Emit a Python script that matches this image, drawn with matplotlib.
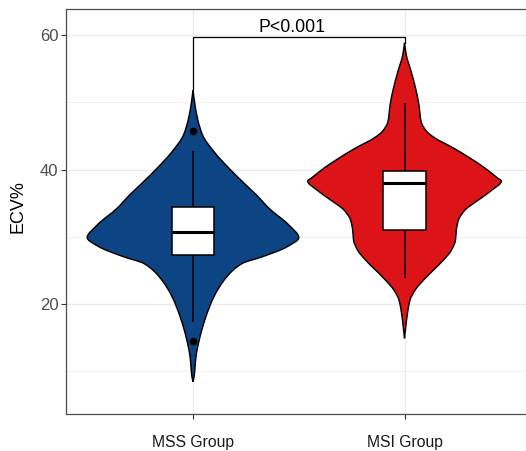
import numpy as np
import matplotlib
matplotlib.use("Agg")
import matplotlib.pyplot as plt
from matplotlib.path import Path
from matplotlib.patches import PathPatch

plt.rcParams['font.family'] = ['Liberation Sans', 'DejaVu Sans']

# Groups and their positions on the discrete axis
groups = ["MSS Group", "MSI Group"]
fills = ["#0D4483", "#DC1418"]

# Violin outlines: ECV% levels and density half-widths (in group-axis units)
mss_levels = [51.85, 50.11, 47.64, 45.16, 42.68, 40.21, 37.73, 36.24, 34.26, 31.78,
              29.90, 28.55, 27.06, 26.08, 24.09, 21.12, 18.14, 15.17, 12.19, 9.22, 8.48]
mss_halfwidth = [0.000, 0.007, 0.021, 0.045, 0.099, 0.170, 0.250, 0.300, 0.359, 0.453,
                 0.500, 0.445, 0.328, 0.234, 0.160, 0.099, 0.061, 0.033, 0.014, 0.005, 0.000]

msi_levels = [58.88, 57.10, 54.63, 52.15, 49.67, 47.20, 45.71, 44.71, 43.23, 41.74,
              40.25, 38.76, 38.32, 36.98, 35.49, 34.00, 32.51, 31.03, 29.54, 28.05,
              26.56, 25.08, 23.59, 22.10, 20.61, 18.65, 16.65, 14.93]
msi_halfwidth = [0.000, 0.008, 0.031, 0.052, 0.068, 0.078, 0.104, 0.144, 0.231, 0.309,
                 0.380, 0.440, 0.458, 0.414, 0.349, 0.286, 0.255, 0.245, 0.241, 0.222,
                 0.184, 0.137, 0.090, 0.050, 0.026, 0.014, 0.006, 0.000]

# Box plot statistics: lower whisker, Q1, median, Q3, upper whisker
mss_box = [17.3, 27.27, 30.69, 34.5, 42.8]
msi_box = [23.94, 31.03, 37.98, 39.8, 49.87]
mss_outliers = [45.7, 14.6]
msi_outliers = []

# Significance bracket
bracket_y = 59.75
bracket_tips = [52.0, 58.9]
p_label = "P<0.001"

y_ticks = [20, 40, 60]
y_minor = [10, 30, 50]


def hermite_slopes(x, y):
    """Monotone (Fritsch-Carlson) slopes so the outline never overshoots."""
    h = np.diff(x)
    delta = np.diff(y) / h
    m = np.zeros_like(y)
    m[0], m[-1] = delta[0], delta[-1]
    for k in range(1, len(y) - 1):
        if delta[k - 1] * delta[k] <= 0:
            m[k] = 0.0
        else:
            w1 = 2 * h[k] + h[k - 1]
            w2 = h[k] + 2 * h[k - 1]
            m[k] = (w1 + w2) / (w1 / delta[k - 1] + w2 / delta[k])
    return m


def violin_path(pos, levels, halfwidth):
    lv = np.asarray(levels, float)[::-1]       # ascending
    hw = np.asarray(halfwidth, float)[::-1]
    m = hermite_slopes(lv, hw)
    # right side, bottom to top, as cubic Bezier segments
    verts = [(pos + hw[0], lv[0])]
    codes = [Path.MOVETO]
    for k in range(len(lv) - 1):
        h = lv[k + 1] - lv[k]
        verts += [(pos + hw[k] + m[k] * h / 3, lv[k] + h / 3),
                  (pos + hw[k + 1] - m[k + 1] * h / 3, lv[k + 1] - h / 3),
                  (pos + hw[k + 1], lv[k + 1])]
        codes += [Path.CURVE4] * 3
    # left side, top to bottom (mirror)
    for k in range(len(lv) - 1, 0, -1):
        h = lv[k] - lv[k - 1]
        verts += [(pos - hw[k] + m[k] * h / 3, lv[k] - h / 3),
                  (pos - hw[k - 1] - m[k - 1] * h / 3, lv[k - 1] + h / 3),
                  (pos - hw[k - 1], lv[k - 1])]
        codes += [Path.CURVE4] * 3
    verts.append(verts[0])
    codes.append(Path.CLOSEPOLY)
    return Path(verts, codes)


fig = plt.figure(figsize=(5.26, 4.51), dpi=100)
ax = fig.add_axes([0.1257, 0.0814, 0.8846, 0.8979])
ax.set_xlim(0.4, 2.6)
ax.set_ylim(3.63, 63.85)

grid_c = "#EBEBEB"
for y in y_ticks:
    ax.axhline(y, color=grid_c, lw=0.9, zorder=0)
for y in y_minor:
    ax.axhline(y, color=grid_c, lw=0.5, zorder=0)
for x in (1, 2):
    ax.axvline(x, color=grid_c, lw=0.9, zorder=0)

profiles = [(mss_levels, mss_halfwidth), (msi_levels, msi_halfwidth)]
boxes = [mss_box, msi_box]
outliers = [mss_outliers, msi_outliers]

for i, ((lv, hw), box, outl, col) in enumerate(zip(profiles, boxes, outliers, fills)):
    pos = i + 1
    ax.add_patch(PathPatch(violin_path(pos, lv, hw), facecolor=col,
                           edgecolor="black", lw=1.05, zorder=2))
    lo, q1, med, q3, hi = box
    bw = 0.1
    ax.plot([pos, pos], [lo, q1], color="black", lw=1.1, zorder=3,
            solid_capstyle="butt")
    ax.plot([pos, pos], [q3, hi], color="black", lw=1.1, zorder=3,
            solid_capstyle="butt")
    ax.add_patch(plt.Rectangle((pos - bw, q1), 2 * bw, q3 - q1, facecolor="white",
                               edgecolor="black", lw=1.1, zorder=3))
    ax.plot([pos - bw, pos + bw], [med, med], color="black", lw=2.2, zorder=4,
            solid_capstyle="butt")
    if outl:
        ax.plot([pos] * len(outl), outl, "o", color="black", ms=4.5, zorder=4)

# bracket with p-value
ax.plot([1, 1, 2, 2], [bracket_tips[0], bracket_y, bracket_y, bracket_tips[1]],
        color="black", lw=0.9, zorder=5)
ax.text(1.47, 60.55, p_label, ha="center", va="baseline", fontsize=12.8,
        color="black", zorder=5)

ax.set_xticks([1, 2])
ax.set_xticklabels(groups)
ax.set_yticks(y_ticks)
ax.tick_params(axis="x", length=3.6, width=0.8, color="#333333", labelsize=11.3,
               labelcolor="#1A1A1A", pad=11)
ax.tick_params(axis="y", length=3.6, width=0.8, color="#333333", labelsize=12,
               labelcolor="#4D4D4D", pad=2)
ax.set_ylabel("ECV%", fontsize=13, color="black")
ax.yaxis.set_label_coords(-0.085, 0.512)

for s in ax.spines.values():
    s.set_color("#4D4D4D")
    s.set_linewidth(0.9)

fig.savefig("out.png", dpi=100)
